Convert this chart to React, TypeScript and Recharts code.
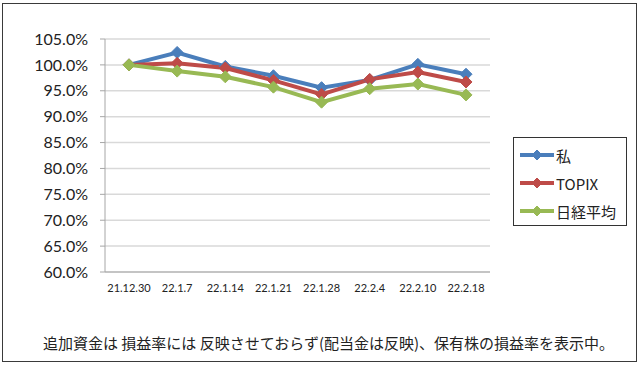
import { CartesianGrid, Line, LineChart, XAxis, YAxis } from "recharts";

const dates = ["21.12.30", "22.1.7", "22.1.14", "22.1.21", "22.1.28", "22.2.4", "22.2.10", "22.2.18"];
const mine = [100, 102.4, 99.7, 97.9, 95.6, 97.1, 100.1, 98.2];
const topix = [100, 100.3, 99.4, 97.0, 94.3, 97.2, 98.6, 96.7];
const nikkei = [100, 98.8, 97.7, 95.7, 92.8, 95.4, 96.3, 94.2];
const yTicks = [60, 65, 70, 75, 80, 85, 90, 95, 100, 105];

const series = [
  { key: "mine", name: "私", color: "#4a7ebb" },
  { key: "topix", name: "TOPIX", color: "#be4b48" },
  { key: "nikkei", name: "日経平均", color: "#98b954" },
];

const chartData = dates.map((date, i) => ({
  date,
  mine: mine[i],
  topix: topix[i],
  nikkei: nikkei[i],
}));

const tickFont = "Lato, 'Liberation Sans', sans-serif";
const jpFont = "'Noto Sans CJK JP', sans-serif";

function Diamond({ cx, cy, color, r = 6 }: { cx?: number; cy?: number; color: string; r?: number }) {
  if (cx == null || cy == null) return null;
  return (
    <polygon
      points={`${cx},${cy - r} ${cx + r},${cy} ${cx},${cy + r} ${cx - r},${cy}`}
      fill={color}
      stroke={color}
      strokeWidth={1}
    />
  );
}

function LegendBox() {
  return (
    <div
      style={{
        position: "absolute",
        left: 513,
        top: 137,
        width: 114,
        height: 89,
        border: "1px solid #333",
        boxSizing: "border-box",
        background: "#fff",
        paddingTop: 3,
      }}
    >
      {series.map((s) => (
        <div key={s.key} style={{ display: "flex", alignItems: "center", height: 28 }}>
          <svg width={38} height={16} style={{ marginLeft: 4 }}>
            <line x1={2} y1={8} x2={36} y2={8} stroke={s.color} strokeWidth={4} />
            <Diamond cx={19} cy={8} color={s.color} r={5} />
          </svg>
          <span style={{ fontFamily: jpFont, fontSize: 15, color: "#222", lineHeight: 1 }}>{s.name}</span>
        </div>
      ))}
    </div>
  );
}

export default function App() {
  return (
    <div style={{ position: "absolute", left: 0, top: 0, width: 640, height: 365, background: "#fff" }}>
      <div
        style={{
          position: "absolute",
          left: 2,
          top: 3,
          width: 635,
          height: 359,
          border: "1px solid #3a3a3a",
          boxSizing: "border-box",
        }}
      />
      <LineChart
        width={640}
        height={365}
        data={chartData}
        margin={{ top: 39, right: 150, bottom: 63, left: 0 }}
        style={{ position: "absolute", left: 0, top: 0 }}
      >
        <CartesianGrid vertical={false} stroke="#d9d9d9" strokeWidth={1.5} />
        <XAxis
          dataKey="date"
          height={30}
          stroke="#a6a6a6"
          tickLine={false}
          tickSize={0}
          tickMargin={12}
          interval={0}
          padding={{ left: 24, right: 24 }}
          tick={{ fontSize: 11, fontFamily: tickFont, fill: "#222" }}
        />
        <YAxis
          width={105}
          domain={[60, 105]}
          ticks={yTicks}
          interval={0}
          stroke="#a6a6a6"
          tickSize={5}
          tickMargin={12}
          tickFormatter={(v: number) => `${v.toFixed(1)}%`}
          tick={{ fontSize: 16, fontFamily: tickFont, fill: "#222" }}
        />
        {series.map((s) => (
          <Line
            key={s.key}
            dataKey={s.key}
            name={s.name}
            stroke={s.color}
            strokeWidth={4}
            isAnimationActive={false}
            dot={(p: any) => <Diamond key={`${s.key}-${p.index}`} cx={p.cx} cy={p.cy} color={s.color} />}
            activeDot={false}
          />
        ))}
      </LineChart>
      <LegendBox />
      <div
        style={{
          position: "absolute",
          left: 43,
          top: 335,
          fontFamily: jpFont,
          fontSize: 15,
          color: "#222",
          whiteSpace: "nowrap",
          lineHeight: 1,
        }}
      >
        追加資金は 損益率には 反映させておらず(配当金は反映)、保有株の損益率を表示中。
      </div>
    </div>
  );
}
